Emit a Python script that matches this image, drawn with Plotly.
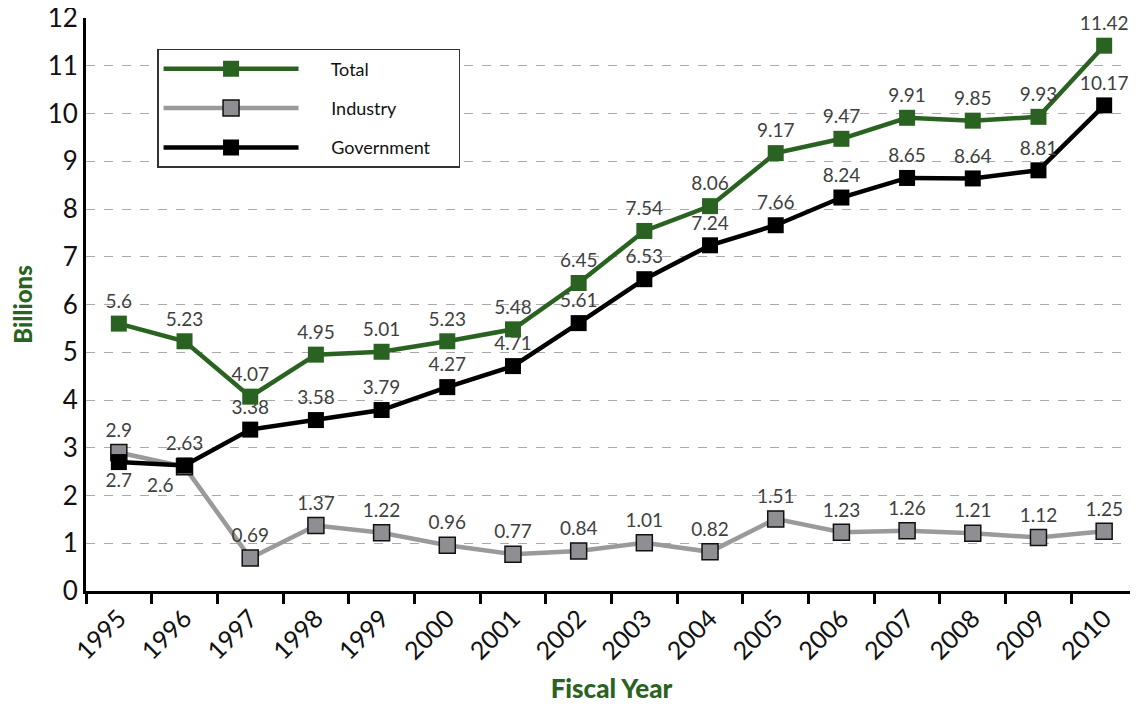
import plotly.graph_objects as go

years = ["1995", "1996", "1997", "1998", "1999", "2000", "2001", "2002",
         "2003", "2004", "2005", "2006", "2007", "2008", "2009", "2010"]
total = [5.6, 5.23, 4.07, 4.95, 5.01, 5.23, 5.48, 6.45, 7.54, 8.06, 9.17, 9.47, 9.91, 9.85, 9.93, 11.42]
industry = [2.9, 2.6, 0.69, 1.37, 1.22, 0.96, 0.77, 0.84, 1.01, 0.82, 1.51, 1.23, 1.26, 1.21, 1.12, 1.25]
government = [2.7, 2.63, 3.38, 3.58, 3.79, 4.27, 4.71, 5.61, 6.53, 7.24, 7.66, 8.24, 8.65, 8.64, 8.81, 10.17]

GREEN = "#2a6321"
FONT = "Lato"
PAD = "\u00a0" * 6
TRAIL = "\u00a0" * 5

def fmt(v):
    return ("%g" % v)

ind_pos = ["top center"] * len(years)
ind_pos[1] = "bottom left"
gov_pos = ["top center"] * len(years)
gov_pos[0] = "bottom center"

LBL = dict(size=19, color="#3f3f3f", family=FONT)

fig = go.Figure()
fig.add_trace(go.Scatter(
    x=years, y=industry, name=PAD + "Industry", mode="lines+markers+text",
    line=dict(color="#9a9a9c", width=4.5),
    marker=dict(symbol="square", size=16, color="#8f8f93", line=dict(color="#111", width=1.5)),
    text=[fmt(v) for v in industry], textposition=ind_pos, cliponaxis=False,
    textfont=LBL, legendrank=2, legendgroup="b",
))
fig.add_trace(go.Scatter(
    x=years, y=government, name=PAD + "Government" + TRAIL, mode="lines+markers+text",
    line=dict(color="#000000", width=4.5),
    marker=dict(symbol="square", size=16, color="#000000"),
    text=[fmt(v) for v in government], textposition=gov_pos, cliponaxis=False,
    textfont=LBL, legendrank=3, legendgroup="c",
))
fig.add_trace(go.Scatter(
    x=years, y=total, name=PAD + "Total", mode="lines+markers+text",
    line=dict(color=GREEN, width=4.5),
    marker=dict(symbol="square", size=16, color=GREEN),
    text=[fmt(v) for v in total], textposition="top center", cliponaxis=False,
    textfont=LBL, legendrank=1, legendgroup="a",
))

fig.update_layout(
    width=1130, height=696,
    margin=dict(l=78, r=1, t=10, b=113, autoexpand=False),
    plot_bgcolor="white", paper_bgcolor="white",
    font=dict(family=FONT, color="#111"),
    showlegend=True,
    legend=dict(
        x=0.0676, y=0.946, xanchor="left", yanchor="top",
        bgcolor="white", bordercolor="#333", borderwidth=1.5,
        font=dict(size=18, family=FONT, color="#111"),
        itemwidth=135, tracegroupgap=13,
        traceorder="grouped",
    ),
    xaxis=dict(
        type="category", range=[-0.5, 15.5], automargin=False,
        showline=True, linecolor="#000", linewidth=3,
        ticks="outside", ticklen=10, tickwidth=3, tickcolor="#000",
        tickson="boundaries", ticklabeloverflow="allow",
        tickangle=-45, tickfont=dict(size=25, family=FONT, color="#111"),
        showgrid=False, zeroline=False,
        title=dict(text="Fiscal Year", font=dict(size=26, color=GREEN, family=FONT, weight=900), standoff=16),
    ),
    yaxis=dict(
        range=[0, 12], dtick=1, automargin=False,
        showline=True, linecolor="#000", linewidth=3,
        ticks="", ticklabeloverflow="allow",
        tickfont=dict(size=26, family=FONT, color="#111"),
        showgrid=True, gridcolor="#aaaaaa", griddash="dash", gridwidth=1,
        zeroline=False,
        title=dict(text="Billions", font=dict(size=24, color=GREEN, family=FONT, weight=900), standoff=14),
    ),
)

fig.write_html("out.html")
